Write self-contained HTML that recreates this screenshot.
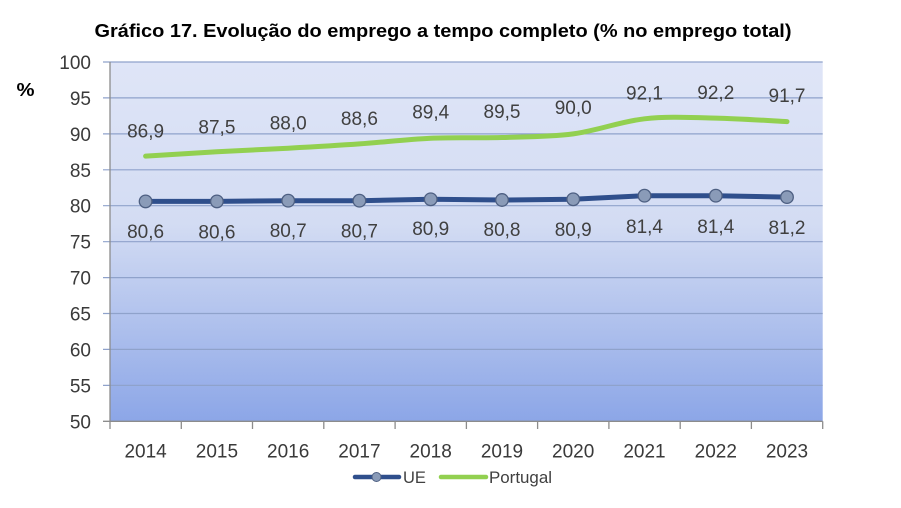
<!DOCTYPE html>
<html>
<head>
<meta charset="utf-8">
<style>
html,body{margin:0;padding:0;background:#fff;}
svg{display:block;}
text{font-family:"Liberation Sans",Arial,sans-serif;}
</style>
</head>
<body>
<svg width="901" height="508" viewBox="0 0 901 508" xmlns="http://www.w3.org/2000/svg">
<defs>
<linearGradient id="bg" x1="0" y1="0" x2="0" y2="1">
<stop offset="0" stop-color="#dfe5f7"/>
<stop offset="0.45" stop-color="#d3dcf3"/>
<stop offset="1" stop-color="#8ca6e7"/>
</linearGradient>
</defs>
<rect width="901" height="508" fill="#fff"/>
<text x="443" y="37" text-anchor="middle" font-size="18.5" font-weight="bold" fill="#000" textLength="697" lengthAdjust="spacingAndGlyphs">Gráfico 17. Evolução do emprego a tempo completo (% no emprego total)</text>
<text x="16.5" y="96" font-size="18" font-weight="bold" fill="#000" textLength="18" lengthAdjust="spacingAndGlyphs">%</text>

<rect x="110" y="62" width="712.7" height="359.3" fill="url(#bg)"/>
<g stroke="#8fa2cb" stroke-width="1.2">
<line x1="103" y1="62" x2="822.7" y2="62"/>
<line x1="103" y1="97.9" x2="822.7" y2="97.9"/>
<line x1="103" y1="133.9" x2="822.7" y2="133.9"/>
<line x1="103" y1="169.8" x2="822.7" y2="169.8"/>
<line x1="103" y1="205.7" x2="822.7" y2="205.7"/>
<line x1="103" y1="241.7" x2="822.7" y2="241.7"/>
<line x1="103" y1="277.6" x2="822.7" y2="277.6"/>
<line x1="103" y1="313.5" x2="822.7" y2="313.5"/>
<line x1="103" y1="349.4" x2="822.7" y2="349.4"/>
<line x1="103" y1="385.4" x2="822.7" y2="385.4"/>
</g>
<g stroke="#8c8c8c" stroke-width="1.3">
<line x1="110" y1="62" x2="110" y2="429"/>
<line x1="103" y1="421.3" x2="822.7" y2="421.3"/>
<line x1="181.3" y1="421.3" x2="181.3" y2="429"/>
<line x1="252.5" y1="421.3" x2="252.5" y2="429"/>
<line x1="323.8" y1="421.3" x2="323.8" y2="429"/>
<line x1="395.1" y1="421.3" x2="395.1" y2="429"/>
<line x1="466.4" y1="421.3" x2="466.4" y2="429"/>
<line x1="537.6" y1="421.3" x2="537.6" y2="429"/>
<line x1="608.9" y1="421.3" x2="608.9" y2="429"/>
<line x1="680.2" y1="421.3" x2="680.2" y2="429"/>
<line x1="751.4" y1="421.3" x2="751.4" y2="429"/>
<line x1="822.7" y1="421.3" x2="822.7" y2="429"/>
</g>

<g font-size="19" fill="#3a3a3a" text-anchor="end">
<text x="91" y="69">100</text>
<text x="91" y="104.9">95</text>
<text x="91" y="140.9">90</text>
<text x="91" y="176.8">85</text>
<text x="91" y="212.7">80</text>
<text x="91" y="248.7">75</text>
<text x="91" y="284.6">70</text>
<text x="91" y="320.5">65</text>
<text x="91" y="356.4">60</text>
<text x="91" y="392.4">55</text>
<text x="91" y="428.3">50</text>
</g>
<g font-size="19" fill="#3a3a3a" text-anchor="middle">
<text x="145.6" y="457.5">2014</text>
<text x="216.9" y="457.5">2015</text>
<text x="288.2" y="457.5">2016</text>
<text x="359.4" y="457.5">2017</text>
<text x="430.7" y="457.5">2018</text>
<text x="502.0" y="457.5">2019</text>
<text x="573.2" y="457.5">2020</text>
<text x="644.5" y="457.5">2021</text>
<text x="715.8" y="457.5">2022</text>
<text x="787.0" y="457.5">2023</text>
</g>

<path d="M145.6,156.1 C157.5,155.4 193.1,153.1 216.9,151.8 C240.7,150.5 264.4,149.5 288.2,148.2 C312.0,146.9 335.6,145.6 359.4,143.9 C383.2,142.2 406.9,139.3 430.7,138.2 C454.5,137.1 478.2,138.2 502.0,137.5 C525.8,136.8 549.4,137.0 573.2,133.9 C597.0,130.8 620.7,121.4 644.5,118.8 C668.3,116.2 692.0,117.6 715.8,118.1 C739.6,118.6 775.1,121.0 787.0,121.6" fill="none" stroke="#92d050" stroke-width="5" stroke-linecap="round"/>

<polyline points="145.6,201.4 216.9,201.4 288.2,200.7 359.4,200.7 430.7,199.3 502.0,200.0 573.2,199.3 644.5,195.7 715.8,195.7 787.0,197.1" fill="none" stroke="#2f4f8c" stroke-width="5" stroke-linejoin="round" stroke-linecap="round"/>
<g fill="#8a9bb8" stroke="#4d5f82" stroke-width="1.3">
<circle cx="145.6" cy="201.4" r="6.3"/>
<circle cx="216.9" cy="201.4" r="6.3"/>
<circle cx="288.2" cy="200.7" r="6.3"/>
<circle cx="359.4" cy="200.7" r="6.3"/>
<circle cx="430.7" cy="199.3" r="6.3"/>
<circle cx="502.0" cy="200.0" r="6.3"/>
<circle cx="573.2" cy="199.3" r="6.3"/>
<circle cx="644.5" cy="195.7" r="6.3"/>
<circle cx="715.8" cy="195.7" r="6.3"/>
<circle cx="787.0" cy="197.1" r="6.3"/>
</g>

<g font-size="19" fill="#404040" text-anchor="middle">
<text x="145.6" y="137.5">86,9</text>
<text x="216.9" y="133.5">87,5</text>
<text x="288.2" y="129.5">88,0</text>
<text x="359.4" y="125">88,6</text>
<text x="430.7" y="118.5">89,4</text>
<text x="502.0" y="118">89,5</text>
<text x="573.2" y="114">90,0</text>
<text x="644.5" y="99.5">92,1</text>
<text x="715.8" y="99">92,2</text>
<text x="787.0" y="102">91,7</text>

<text x="145.6" y="238">80,6</text>
<text x="216.9" y="238.5">80,6</text>
<text x="288.2" y="237">80,7</text>
<text x="359.4" y="237.5">80,7</text>
<text x="430.7" y="235">80,9</text>
<text x="502.0" y="236">80,8</text>
<text x="573.2" y="236">80,9</text>
<text x="644.5" y="233">81,4</text>
<text x="715.8" y="233">81,4</text>
<text x="787.0" y="234">81,2</text>
</g>

<line x1="355" y1="477" x2="399" y2="477" stroke="#2f4f8c" stroke-width="4.5" stroke-linecap="round"/>
<circle cx="376.5" cy="477" r="4.5" fill="#8a9bb8" stroke="#4d5f82" stroke-width="1"/>
<text x="403" y="483" font-size="16.5" fill="#404040">UE</text>
<line x1="441" y1="477" x2="486" y2="477" stroke="#92d050" stroke-width="4.5" stroke-linecap="round"/>
<text x="489" y="483" font-size="16.5" fill="#404040" textLength="63" lengthAdjust="spacingAndGlyphs">Portugal</text>
</svg>
</body>
</html>
